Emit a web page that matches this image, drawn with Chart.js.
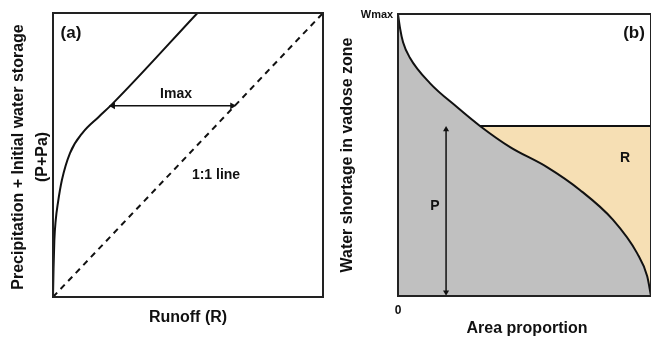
<!DOCTYPE html>
<html>
<head>
<meta charset="utf-8">
<script src="https://cdn.jsdelivr.net/npm/chart.js@4.4.1/dist/chart.umd.min.js"></script>
<style>
html,body{margin:0;padding:0;background:#fff;overflow:hidden;width:651px;height:341px;}
#ca{position:absolute;left:0;top:0;}
#cb{position:absolute;left:330px;top:0;}
</style>
</head>
<body>
<canvas id="ca" width="330" height="341"></canvas>
<canvas id="cb" width="323" height="341"></canvas>
<script>
// ---- Panel (a) data: runoff (x) vs P+Pa (y), normalised 0..1 ----
const curveAX = [0, 0.002, 0.005, 0.010, 0.018, 0.033, 0.063, 0.111, 0.17, 0.22, 0.535];
const curveAY = [0, 0.10, 0.20, 0.27, 0.33, 0.412, 0.507, 0.58, 0.635, 0.68, 1.0];
const oneToOneX = [0, 1];
const oneToOneY = [0, 1];
const imaxX = [0.222, 0.664];
const imaxY = [0.673, 0.673];

// ---- Panel (b) data: area proportion (x) vs water shortage (y), normalised ----
const curveBX = [0, 0.008, 0.020, 0.047, 0.126, 0.233, 0.324, 0.443, 0.589, 0.719, 0.850, 0.945, 0.985, 1.0];
const curveBY = [1.0, 0.95, 0.90, 0.845, 0.755, 0.670, 0.603, 0.528, 0.457, 0.376, 0.270, 0.152, 0.07, 0];
const pLineX = [0, 1];
const pLineY = [0.603, 0.603];
const pArrowX = [0.19, 0.19];
const pArrowY = [0.013, 0.59];

const FONT = 'Liberation Sans, Arial, sans-serif';
const pts = (xs, ys) => xs.map((x, i) => ({x: x, y: ys[i]}));

function textPlugin(labels, frame) {
  return {
    id: 'texts',
    afterDraw(chart) {
      const ctx = chart.ctx, a = chart.chartArea;
      ctx.save();
      if (frame) {
        ctx.strokeStyle = '#222';
        ctx.lineWidth = 2;
        ctx.strokeRect(a.left, a.top, a.right - a.left, a.bottom - a.top);
      }
      labels.forEach(l => {
        ctx.save();
        ctx.fillStyle = '#111';
        ctx.font = 'bold ' + l.size + 'px ' + FONT;
        ctx.textAlign = l.align || 'center';
        ctx.textBaseline = 'middle';
        ctx.translate(l.x, l.y);
        if (l.rot) ctx.rotate(l.rot);
        ctx.fillText(l.text, 0, 0);
        ctx.restore();
      });
      ctx.restore();
    }
  };
}

const hiddenScales = () => ({
  x: {type: 'linear', min: 0, max: 1, display: false},
  y: {type: 'linear', min: 0, max: 1, display: false}
});

new Chart(document.getElementById('ca'), {
  type: 'line',
  data: {
    datasets: [
      {data: pts(curveAX, curveAY), borderColor: '#111', borderWidth: 2, pointRadius: 0, cubicInterpolationMode: 'monotone', fill: false},
      {data: pts(oneToOneX, oneToOneY), borderColor: '#111', borderWidth: 2, borderDash: [6, 5], pointRadius: 0, fill: false},
      {data: pts(imaxX, imaxY), borderColor: '#111', borderWidth: 1.5, fill: false,
       pointStyle: 'triangle', pointRadius: 4, pointRotation: [-90, 90],
       pointBackgroundColor: '#111', pointBorderColor: '#111', pointBorderWidth: 0}
    ]
  },
  options: {
    responsive: false, animation: false, devicePixelRatio: 1,
    layout: {autoPadding: false, padding: {left: 53, top: 13, right: 7, bottom: 44}},
    plugins: {legend: {display: false}, tooltip: {enabled: false}},
    scales: hiddenScales()
  },
  plugins: [textPlugin([
    {text: '(a)', x: 71, y: 33, size: 17},
    {text: 'Imax', x: 176, y: 94, size: 14},
    {text: '1:1 line', x: 216, y: 175, size: 14},
    {text: 'Runoff (R)', x: 188, y: 318, size: 16},
    {text: 'Precipitation + Initial water storage', x: 19, y: 157, size: 16, rot: -Math.PI / 2},
    {text: '(P+Pa)', x: 43, y: 157, size: 16, rot: -Math.PI / 2}
  ], true)]
});

new Chart(document.getElementById('cb'), {
  type: 'line',
  data: {
    datasets: [
      {data: pts(curveBX, curveBY), borderColor: '#111', borderWidth: 2, pointRadius: 0, cubicInterpolationMode: 'monotone',
       fill: 'origin', backgroundColor: '#c0c0c0', order: 1},
      {data: pts(pLineX, pLineY), borderColor: '#111', borderWidth: 2, pointRadius: 0,
       fill: {target: 0, above: '#f6dfb4', below: 'rgba(0,0,0,0)'}, order: 2},
      {data: pts(pArrowX, pArrowY), borderColor: '#111', borderWidth: 1.5, fill: false,
       pointStyle: 'triangle', pointRadius: 3.5, pointRotation: [180, 0],
       pointBackgroundColor: '#111', pointBorderColor: '#111', pointBorderWidth: 0, order: 0}
    ]
  },
  options: {
    responsive: false, animation: false, devicePixelRatio: 1,
    layout: {autoPadding: false, padding: {left: 68, top: 14, right: 2, bottom: 45}},
    plugins: {legend: {display: false}, tooltip: {enabled: false}},
    scales: hiddenScales()
  },
  plugins: [textPlugin([
    {text: '(b)', x: 304, y: 33, size: 17},
    {text: 'Wmax', x: 47, y: 15, size: 11},
    {text: '0', x: 68, y: 311, size: 12},
    {text: 'P', x: 105, y: 206, size: 14},
    {text: 'R', x: 295, y: 158, size: 14},
    {text: 'Area proportion', x: 197, y: 329, size: 16},
    {text: 'Water shortage in vadose zone', x: 18, y: 155, size: 16, rot: -Math.PI / 2}
  ], true)]
});
</script>
</body>
</html>
